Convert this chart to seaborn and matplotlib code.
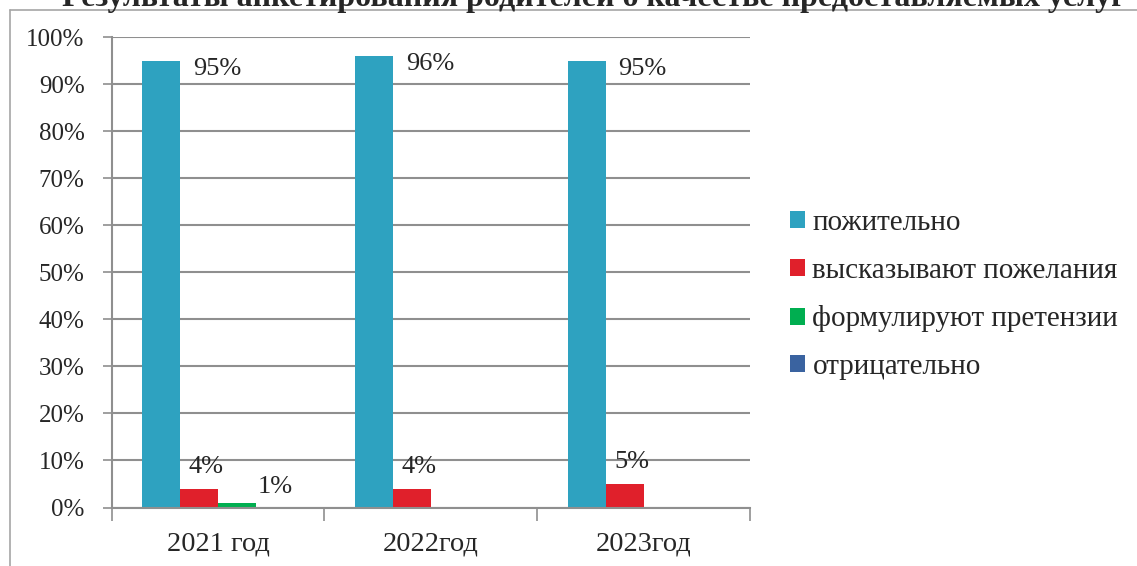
import matplotlib.pyplot as plt
import pandas as pd
import seaborn as sns
from matplotlib.lines import Line2D
from matplotlib.patches import Patch

# Data (percent)
years = ['2021 год', '2022год', '2023год']
groups = ['пожительно', 'высказывают пожелания', 'формулируют претензии', 'отрицательно']
positive = [95, 96, 95]
wishes = [4, 4, 5]
claims = [1, 0, 0]
negative = [0, 0, 0]
colors = ['#2ea2c0', '#e0202b', '#00ae50', '#3a63a0']
title = 'Результаты анкетирования родителей о качестве предоставляемых услуг'

df = pd.DataFrame({
    'year': years * 4,
    'group': [g for g in groups for _ in years],
    'value': positive + wishes + claims + negative,
})

sns.set_style('white')
plt.rcParams['font.family'] = ['Liberation Serif', 'DejaVu Serif']

W, H = 1137, 566
fig = plt.figure(figsize=(W / 100, H / 100), dpi=100)
ax = fig.add_axes([111.7 / W, 1 - 507.5 / H, 638.3 / W, 470.2 / H])

sns.barplot(data=df, x='year', y='value', hue='group', order=years, hue_order=groups,
            palette=colors, saturation=1, width=0.714, gap=0, linewidth=0,
            legend=False, ax=ax)

grid_c = '#8f8f8f'
ax.set_xlim(-0.5, 2.5)
ax.set_ylim(0, 100)
ax.set_yticks(range(0, 101, 10))
ax.set_yticklabels([f'{t}%' for t in range(0, 101, 10)])
ax.yaxis.grid(True, color=grid_c, linewidth=1.5)
ax.set_axisbelow(True)
ax.set_xlabel('')
ax.set_ylabel('')
for side in ['top', 'right']:
    ax.spines[side].set_visible(False)
for side in ['left', 'bottom']:
    ax.spines[side].set_color(grid_c)
    ax.spines[side].set_linewidth(1.5)

ax.tick_params(axis='y', length=6.5, width=1.2, color=grid_c, pad=13, labelsize=18, left=True)
ax.tick_params(axis='x', which='major', length=0, pad=17, labelsize=20.5)
ax.set_xticks([-0.5, 0.5, 1.5, 2.5], minor=True)
ax.tick_params(axis='x', which='minor', length=9.5, width=1.2, color=grid_c, bottom=True)

# value labels, offsets in pixels per series (as placed in the source)
offsets = [(56, -14), (7, 16), (38, 10), (0, 0)]
series = [positive, wishes, claims, negative]
for cont, vals, (dx, dy) in zip(ax.containers, series, offsets):
    for bar, v in zip(cont, vals):
        if v == 0:
            continue
        ax.annotate(f'{v}%', xy=(bar.get_x() + bar.get_width() / 2, bar.get_height()),
                    xytext=(dx, dy), textcoords='offset pixels',
                    ha='center', va='baseline', fontsize=19)

handles = [Patch(facecolor=c, edgecolor='none') for c in colors]
fig.legend(handles, groups, loc='center left', bbox_to_anchor=(790 / W, 1 - 295 / H),
           frameon=False, fontsize=21, handlelength=0.52, handleheight=0.52,
           handletextpad=0.25, labelspacing=0.75, borderpad=0, borderaxespad=0)

# title (cut off at the top of the source image)
fig.text(594 / W, 1 - 6 / H, title, ha='center', va='baseline', fontsize=23, fontweight='bold')

# chart frame
frame_c = '#a6a6a6'
fig.add_artist(Line2D([9.5 / W, 1], [1 - 9.5 / H, 1 - 9.5 / H], color=frame_c, linewidth=1.2))
fig.add_artist(Line2D([9.5 / W, 9.5 / W], [0, 1 - 9.5 / H], color=frame_c, linewidth=1.2))

fig.savefig('out.png', dpi=100)
